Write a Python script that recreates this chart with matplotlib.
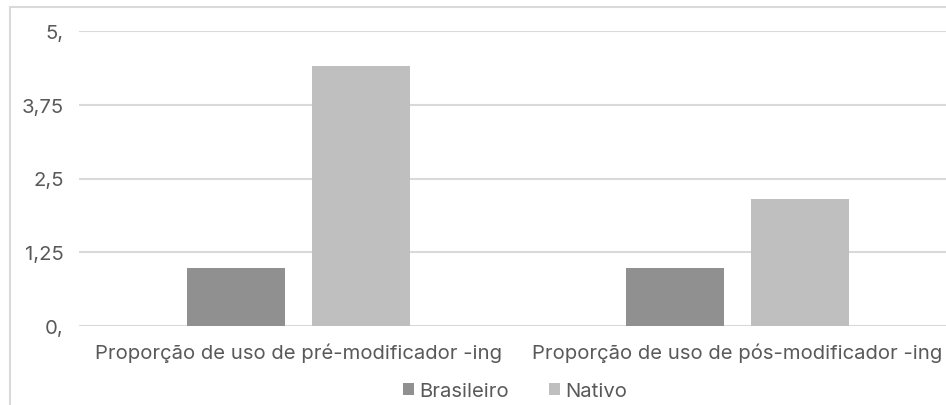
import numpy as np
import matplotlib.pyplot as plt
from matplotlib.patches import Rectangle

categories = ["Proporção de uso de pré-modificador -ing",
              "Proporção de uso de pós-modificador -ing"]
brasileiro = [0.98, 0.98]
nativo = [4.41, 2.15]
y_ticks = [0, 1.25, 2.5, 3.75, 5]
y_tick_labels = ["0,", "1,25", "2,5", "3,75", "5,"]

text_color = "#595959"
grid_color = "#d9d9d9"
fs = 14.6

plt.rcParams['font.family'] = ['Inter', 'DejaVu Sans']

fig = plt.figure(figsize=(9.46, 4.06), dpi=100)
# chart frame, running off the right and bottom edges
fig.patches.append(Rectangle((10 / 946, -0.1), 1.2, 1 - 8 / 406 + 0.1,
                             transform=fig.transFigure, fill=False,
                             edgecolor=grid_color, linewidth=1.5))

ax = fig.add_axes([79 / 946, 1 - 327 / 406, 878 / 946, 295 / 406])

x = np.arange(len(categories))
w = 0.224
off = 0.142
ax.bar(x - off, brasileiro, w, color="#909090", label="Brasileiro", zorder=3)
ax.bar(x + off, nativo, w, color="#bfbfbf", label="Nativo", zorder=3)

ax.set_xlim(-0.5, 1.5)
ax.set_ylim(0, 5)
ax.set_yticks(y_ticks)
ax.set_yticklabels(y_tick_labels)
ax.set_xticks(x)
ax.set_xticklabels(categories)
ax.yaxis.grid(True, color=grid_color, linewidth=1.5, zorder=0)
ax.set_axisbelow(True)
for s in ax.spines.values():
    s.set_visible(False)
ax.tick_params(axis='y', length=0, pad=11, labelsize=fs, labelcolor=text_color)
ax.tick_params(axis='x', length=0, pad=12, labelsize=fs, labelcolor=text_color)

fig.legend(loc='center', bbox_to_anchor=(515 / 946, 1 - 392 / 406), ncol=2,
           frameon=False, handlelength=0.55, handleheight=0.55, handletextpad=0.25,
           columnspacing=2.0, fontsize=fs, labelcolor=text_color)

fig.savefig("out.png", dpi=100)
